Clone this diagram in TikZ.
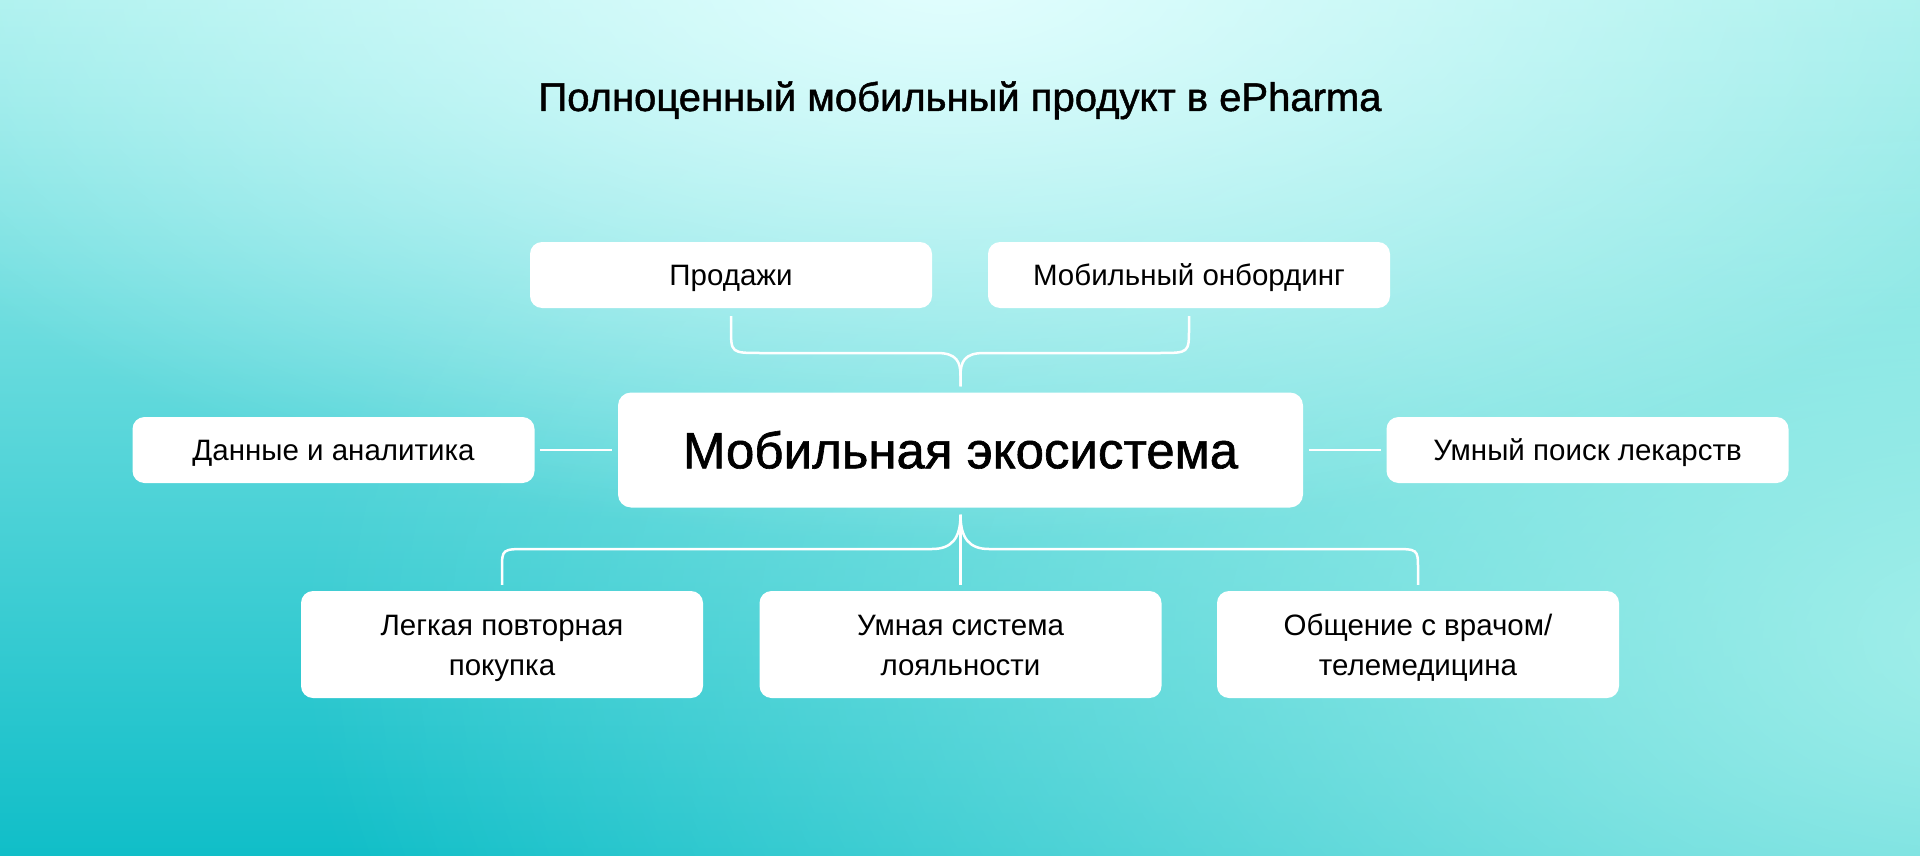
\documentclass[tikz,border=0pt]{standalone}
\usepackage{fontspec}
\setmainfont{Liberation Sans}
\newfontfamily\medfont[FakeBold=1.2]{Liberation Sans}
\usetikzlibrary{fadings,calc}
\definecolor{bgtop}{HTML}{A4EFEC}
\definecolor{bgmid}{HTML}{6ADDD6}
\definecolor{bgbot}{HTML}{10BEC8}
\definecolor{glowtop}{HTML}{E2FEFE}
\definecolor{glowright}{HTML}{A2EFEA}
\tikzfading[name=glowfade, inner color=transparent!0, outer color=transparent!100]
\begin{document}
\begin{tikzpicture}[x=1pt,y=-1pt,
  box/.style={fill=white, rounded corners=12pt, minimum width=402pt, minimum height=66pt,
    inner sep=0pt, font=\fontsize{29.5}{40}\selectfont, text=black,
    text height=21pt, text depth=0pt},
  twoline/.style={box, minimum height=107pt, text height=21pt, text depth=40pt},
  hubbox/.style={fill=white, rounded corners=13pt, minimum width=685pt, minimum height=115pt,
    inner sep=0pt, font=\medfont\fontsize{51}{60}\selectfont, text=black, text height=36.5pt, text depth=0pt},
  conn/.style={draw=white, line width=2.5pt}]
\useasboundingbox (0,0) rectangle (1920,856);
% background
\shade[top color=bgtop, middle color=bgmid, bottom color=bgbot] (0,0) rectangle (1920,856);
\fill[glowright, path fading=glowfade] (2000,640) ellipse [x radius=1700, y radius=1000];
\fill[glowtop, path fading=glowfade] (950,-20) ellipse [x radius=1200, y radius=560];
% title
\node[anchor=base, font=\medfont\fontsize{40}{47}\selectfont, inner sep=0pt] (title) at (960,111)
  {Полноценный мобильный продукт в ePharma};
% nodes
\node[hubbox] (hub) at (960.5,450) {Мобильная экосистема};
\node[box] (sales) at (731,275) {Продажи};
\node[box] (onb) at (1189,275) {Мобильный онбординг};
\node[box] (data) at (333.5,450) {Данные и аналитика};
\node[box] (search) at (1587.5,450) {Умный поиск лекарств};
\node[twoline] (rep) at (502,644.5) {\parbox[t]{400pt}{\centering Легкая повторная\\покупка}};
\node[twoline] (loyal) at (960.5,644.5) {\parbox[t]{400pt}{\centering Умная система\\лояльности}};
\node[twoline] (doc) at (1418,644.5) {\parbox[t]{400pt}{\centering Общение с врачом/\\телемедицина}};
% connector end points
\coordinate (tj) at ($(hub.north)+(0,-6)$);
\coordinate (bj) at ($(hub.south)+(0,7)$);
% top brace
\draw[conn] ($(sales.south)+(0,8)$) -- (731,328) .. controls (731,353) .. (761,353) -- (937,353)
  .. controls (957,353) and (960.5,362) .. (960.5,376) -- (tj);
\draw[conn] ($(onb.south)+(0,8)$) -- (1189,328) .. controls (1189,353) .. (1159,353) -- (984,353)
  .. controls (964,353) and (960.5,362) .. (960.5,376) -- (tj);
% side lines
\draw[conn] ($(data.east)+(5,0)$) -- ($(hub.west)+(-6,0)$);
\draw[conn] ($(hub.east)+(6,0)$) -- ($(search.west)+(-5,0)$);
% bottom
\draw[conn] (bj) -- ($(loyal.north)+(0,-6)$);
\draw[conn] (bj) .. controls (960.5,538) and (952,549) .. (932,549) -- (528,549)
  .. controls (502,549) .. (502,569) -- ($(rep.north)+(0,-6)$);
\draw[conn] (bj) .. controls (960.5,538) and (969,549) .. (989,549) -- (1392,549)
  .. controls (1418,549) .. (1418,569) -- ($(doc.north)+(0,-6)$);
\end{tikzpicture}
\end{document}
